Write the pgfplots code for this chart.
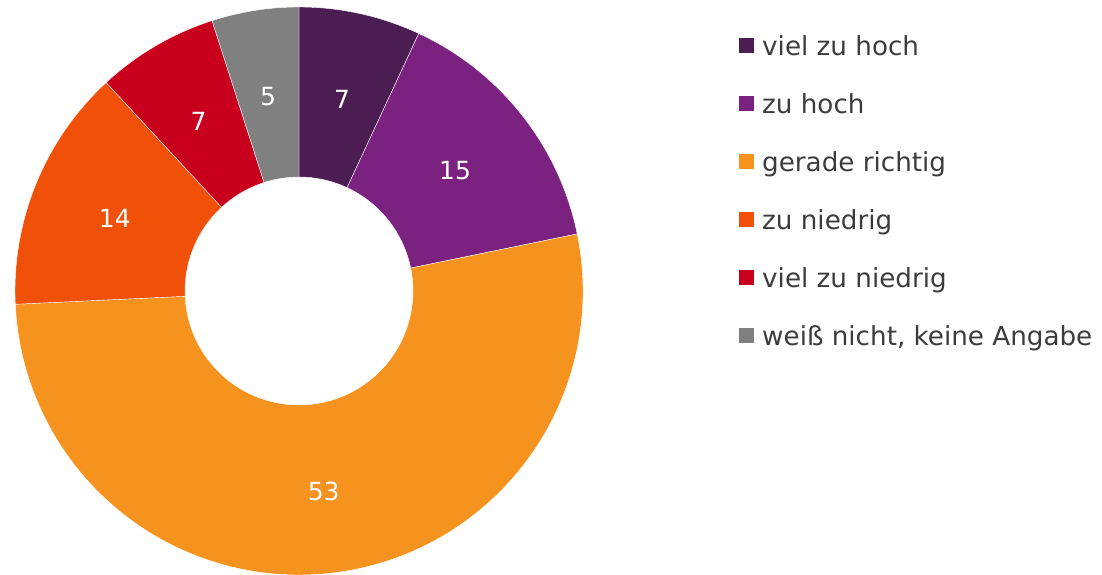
\documentclass[border=0pt]{standalone}
\usepackage{pgfplots}
\pgfplotsset{compat=1.18}
\usepackage{pgfplotstable}
\usepackage{fontspec}
\setmainfont{DejaVu Sans}
\definecolor{col0}{RGB}{75,29,82}
\definecolor{col1}{RGB}{123,34,128}
\definecolor{col2}{RGB}{246,146,30}
\definecolor{col3}{RGB}{240,80,8}
\definecolor{col4}{RGB}{200,0,30}
\definecolor{col5}{RGB}{128,128,128}
\definecolor{txt}{RGB}{60,60,60}
\pgfplotstableread{
value
7
15
53
14
7
5
}\data
\tikzset{lbl/.style={text=white,inner sep=0pt,yshift=-2.5pt,font=\fontsize{25}{30}\selectfont}}
\begin{document}
\begin{tikzpicture}
\begin{axis}[
  x=1pt, y=1pt, xmin=0, xmax=1102, ymin=0, ymax=575,
  scale only axis, axis lines=none, clip=true,
  legend cell align=left,
  legend image code/.code={\fill[#1, draw=none] (0pt,-4pt) rectangle (15pt,11pt);},
  legend style={at={(axis cs:739,539.5)}, anchor=north west, draw=none, fill=none,
    inner sep=0pt, row sep=32pt,
    font=\fontsize{26.2}{30}\selectfont, text=txt,
    nodes={inner sep=0pt, text height=20pt, text depth=6pt},
    /tikz/every odd column/.append style={column sep=8pt}},
]
\addlegendimage{fill=col0}\addlegendentry{viel zu hoch}
\addlegendimage{fill=col1}\addlegendentry{zu hoch}
\addlegendimage{fill=col2}\addlegendentry{gerade richtig}
\addlegendimage{fill=col3}\addlegendentry{zu niedrig}
\addlegendimage{fill=col4}\addlegendentry{viel zu niedrig}
\addlegendimage{fill=col5}\addlegendentry{weiß nicht, keine Angabe}
\path (rel axis cs:0,0) rectangle (rel axis cs:1,1);
\gdef\cum{0}
\pgfplotsinvokeforeach{0,...,5}{
  \pgfplotstablegetelem{#1}{value}\of\data
  \edef\v{\pgfplotsretval}
  \pgfmathsetmacro\aA{90-\cum/101*360}
  \pgfmathsetmacro\aB{90-(\cum+\v)/101*360}
  \pgfmathsetmacro\aM{(\aA+\aB)/2}
  \edef\temp{\noexpand\fill[fill=col#1, draw=white, line width=0.4pt]
    (axis cs:299,284) ++(\aA:284pt) arc[start angle=\aA, end angle=\aB, radius=284pt]
    -- ++(\aB+180:170pt) arc[start angle=\aB, end angle=\aA, radius=114pt] -- cycle;
    \noexpand\path (axis cs:299,284) ++(\aM:199pt) node[lbl] {\v};}
  \temp
  \pgfmathsetmacro\newcum{\cum+\v}
  \xdef\cum{\newcum}
}
\end{axis}
\end{tikzpicture}
\end{document}
